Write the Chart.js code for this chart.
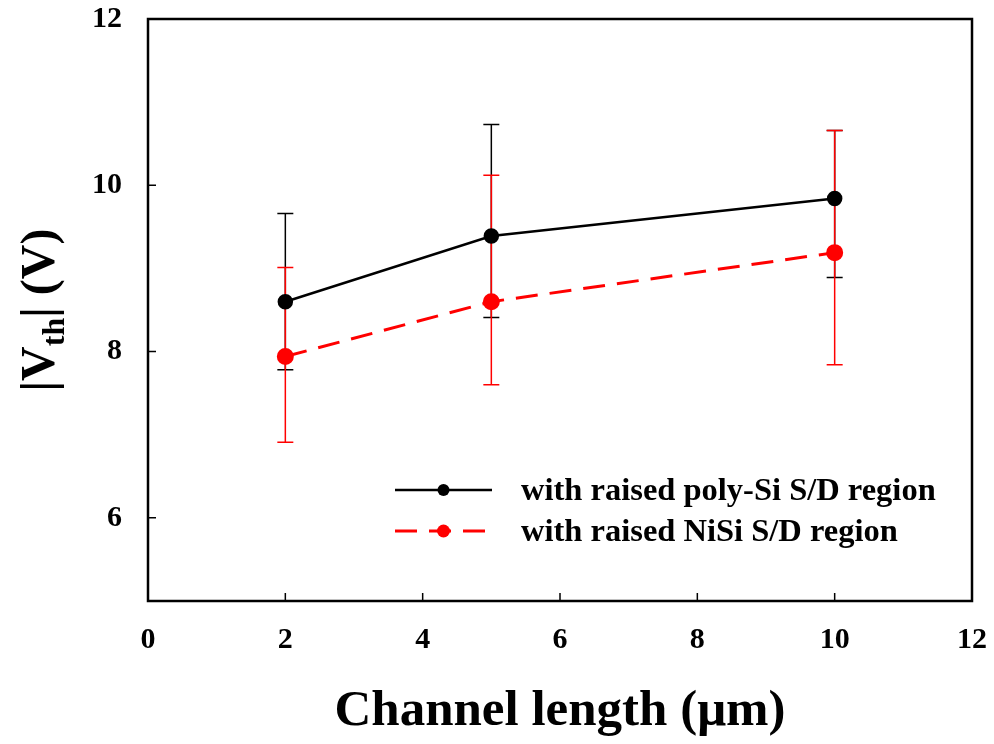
<!DOCTYPE html>
<html>
<head>
<meta charset="utf-8">
<script src="https://cdn.jsdelivr.net/npm/chart.js@4/dist/chart.umd.min.js"></script>
<style>
  html, body { margin: 0; padding: 0; background: #fff; }
  #wrap { width: 994px; height: 744px; }
</style>
</head>
<body>
<div id="wrap"><canvas id="vthChart" width="994" height="744"></canvas></div>
<script>
// Threshold voltage vs channel length, with error bars
const channelLength = [2, 5, 10];

const polyMean = [8.60, 9.39, 9.84];
const polyLow  = [7.78, 8.41, 8.89];
const polyHigh = [9.66, 10.73, 10.66];

const nisiMean = [7.94, 8.60, 9.19];
const nisiLow  = [6.91, 7.60, 7.84];
const nisiHigh = [9.01, 10.12, 10.66];

const xTicks = [0, 2, 4, 6, 8, 10, 12];
const yTicks = [6, 8, 10, 12];

const seriesNames = ['with raised poly-Si S/D region', 'with raised NiSi S/D region'];

const SERIF = '"Liberation Serif", "Times New Roman", serif';

function points(ys) {
  return channelLength.map((x, i) => ({ x: x, y: ys[i] }));
}

// error bars, frame, inward ticks, legend and axis titles
const decorations = {
  id: 'decorations',
  beforeDatasetsDraw(chart) {
    const { ctx, scales: { x, y } } = chart;
    const bars = [
      { low: polyLow, high: polyHigh, color: '#000' },
      { low: nisiLow, high: nisiHigh, color: '#ff0000' }
    ];
    ctx.save();
    ctx.lineWidth = 1.5;
    bars.forEach(b => {
      ctx.strokeStyle = b.color;
      channelLength.forEach((cx, i) => {
        const px = x.getPixelForValue(cx);
        const top = y.getPixelForValue(b.high[i]);
        const bot = y.getPixelForValue(b.low[i]);
        ctx.beginPath();
        ctx.moveTo(px, top); ctx.lineTo(px, bot);
        ctx.moveTo(px - 8, top); ctx.lineTo(px + 8, top);
        ctx.moveTo(px - 8, bot); ctx.lineTo(px + 8, bot);
        ctx.stroke();
      });
    });
    ctx.restore();
  },
  afterDraw(chart) {
    const { ctx, chartArea: a, scales: { x, y } } = chart;
    ctx.save();
    // frame
    ctx.strokeStyle = '#000';
    ctx.lineWidth = 2.5;
    ctx.strokeRect(a.left, a.top, a.right - a.left, a.bottom - a.top);
    // inward ticks
    ctx.lineWidth = 1.5;
    ctx.beginPath();
    xTicks.forEach(v => {
      const px = x.getPixelForValue(v);
      ctx.moveTo(px, a.bottom); ctx.lineTo(px, a.bottom - 8);
    });
    yTicks.forEach(v => {
      const py = y.getPixelForValue(v);
      ctx.moveTo(a.left, py); ctx.lineTo(a.left + 8, py);
    });
    ctx.stroke();

    // legend
    const lx0 = 395, lx1 = 492, textX = 521;
    const rows = [490, 531];
    ctx.lineWidth = 2.5;
    ctx.strokeStyle = '#000';
    ctx.beginPath(); ctx.moveTo(lx0, rows[0]); ctx.lineTo(lx1, rows[0]); ctx.stroke();
    ctx.fillStyle = '#000';
    ctx.beginPath(); ctx.arc((lx0 + lx1) / 2, rows[0], 6, 0, Math.PI * 2); ctx.fill();
    ctx.lineWidth = 3;
    ctx.strokeStyle = '#ff0000';
    ctx.setLineDash([22, 12]);
    ctx.beginPath(); ctx.moveTo(lx0, rows[1]); ctx.lineTo(lx1, rows[1]); ctx.stroke();
    ctx.setLineDash([]);
    ctx.fillStyle = '#ff0000';
    ctx.beginPath(); ctx.arc((lx0 + lx1) / 2, rows[1], 6.5, 0, Math.PI * 2); ctx.fill();
    ctx.fillStyle = '#000';
    ctx.font = 'bold 32.5px ' + SERIF;
    ctx.textBaseline = 'middle';
    ctx.textAlign = 'left';
    ctx.fillText(seriesNames[0], textX, rows[0] + 2);
    ctx.fillText(seriesNames[1], textX, rows[1] + 2);

    // x axis title
    ctx.font = 'bold 51px ' + SERIF;
    ctx.textAlign = 'center';
    ctx.textBaseline = 'middle';
    ctx.fillText('Channel length (\u03bcm)', 560, 712);

    // y axis title with subscript, rotated
    ctx.translate(38, 310);
    ctx.rotate(-Math.PI / 2);
    ctx.textBaseline = 'alphabetic';
    ctx.textAlign = 'left';
    const big = 'bold 48px ' + SERIF, small = 'bold 32px ' + SERIF;
    const parts = [
      { t: '|V', f: big, dy: 0 },
      { t: 'th', f: small, dy: 10 },
      { t: '| (V)', f: big, dy: 0 }
    ];
    let total = 0;
    parts.forEach(p => { ctx.font = p.f; total += ctx.measureText(p.t).width; });
    let cx = -total / 2;
    parts.forEach(p => {
      ctx.font = p.f;
      ctx.fillText(p.t, cx, 16 + p.dy);
      cx += ctx.measureText(p.t).width;
    });
    ctx.restore();
  }
};

const ctx = document.getElementById('vthChart').getContext('2d');

const vthChart = new Chart(ctx, {
  type: 'line',
  data: {
    datasets: [
      {
        label: seriesNames[0],
        data: points(polyMean),
        borderColor: '#000',
        backgroundColor: '#000',
        borderWidth: 2.5,
        pointRadius: 6.5,
        pointHoverRadius: 6.5,
        tension: 0
      },
      {
        label: seriesNames[1],
        data: points(nisiMean),
        borderColor: '#ff0000',
        backgroundColor: '#ff0000',
        borderWidth: 3,
        borderDash: [22, 12],
        pointRadius: 7,
        pointHoverRadius: 7,
        tension: 0
      }
    ]
  },
  options: {
    responsive: false,
    animation: false,
    events: [],
    layout: { padding: { top: 19, right: 22, left: 0, bottom: 0 } },
    plugins: {
      legend: { display: false },
      tooltip: { enabled: false }
    },
    scales: {
      x: {
        type: 'linear',
        min: 0,
        max: 12,
        afterBuildTicks: s => { s.ticks = xTicks.map(v => ({ value: v })); },
        afterFit: s => { s.height = 143; s.paddingLeft = 0; s.paddingRight = 0; },
        grid: { display: false },
        border: { display: false },
        ticks: {
          color: '#000',
          padding: 13,
          maxRotation: 0,
          font: { family: SERIF, size: 30, weight: 'bold' }
        }
      },
      y: {
        type: 'linear',
        min: 5,
        max: 12,
        afterBuildTicks: s => { s.ticks = yTicks.map(v => ({ value: v })); },
        afterFit: s => { s.width = 148; s.paddingTop = 0; s.paddingBottom = 0; },
        grid: { display: false },
        border: { display: false },
        ticks: {
          color: '#000',
          padding: 18,
          font: { family: SERIF, size: 30, weight: 'bold' }
        }
      }
    }
  },
  plugins: [decorations]
});
</script>
</body>
</html>
